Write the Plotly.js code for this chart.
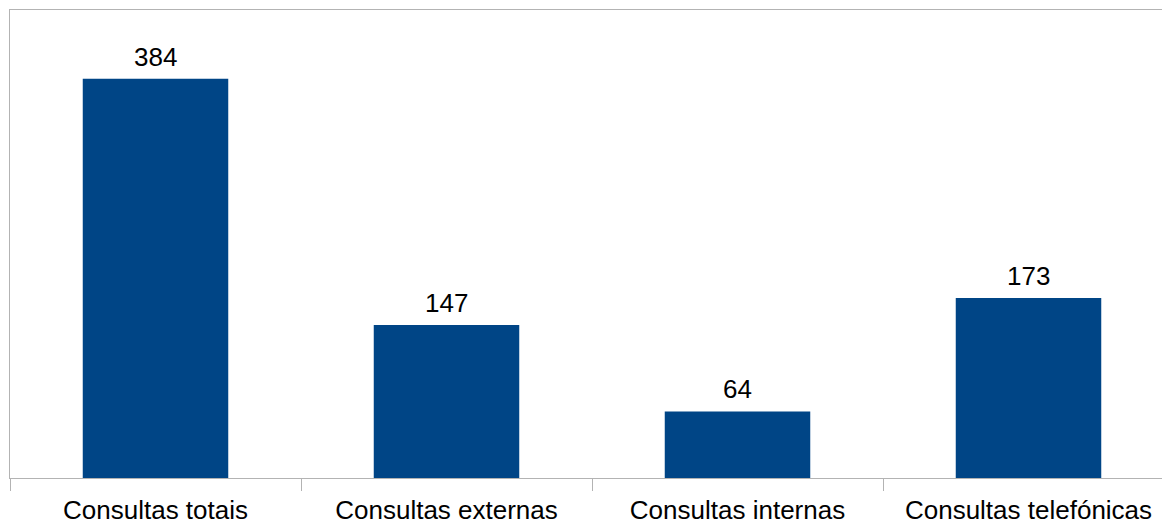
<!DOCTYPE html>
<html>
<head>
<meta charset="utf-8">
<script src="https://cdn.plot.ly/plotly-3.0.1.min.js"></script>
<style>
html, body { margin: 0; padding: 0; overflow: hidden; background: #fff; }
#chart { width: 1174px; height: 523px; }
</style>
</head>
<body>
<div id="chart"></div>
<script>
const categories = ["Consultas totais", "Consultas externas", "Consultas internas", "Consultas telefónicas"];
const values = [384, 147, 64, 173];

const FONT = "Liberation Sans, Arial, sans-serif";

const trace = {
  type: "bar",
  x: categories,
  y: values,
  marker: { color: "#004586", line: { width: 0 } },
  hoverinfo: "none"
};

const annotations = categories.map((c, i) => ({
  x: c,
  y: values[i],
  xref: "x",
  yref: "y",
  text: String(values[i]),
  showarrow: false,
  yanchor: "bottom",
  yshift: 5,
  font: { family: FONT, size: 26, color: "#000" }
}));

const layout = {
  width: 1174,
  height: 523,
  margin: { l: 10, r: 0, t: 10, b: 45 },
  paper_bgcolor: "#fff",
  plot_bgcolor: "#fff",
  bargap: 0.5,
  showlegend: false,
  xaxis: {
    type: "category",
    showline: true,
    linecolor: "#b3b3b3",
    linewidth: 1,
    mirror: true,
    ticks: "outside",
    tickson: "boundaries",
    ticklen: 12,
    tickcolor: "#b3b3b3",
    tickwidth: 1,
    showgrid: false,
    zeroline: false,
    ticklabelstandoff: 9,
    tickfont: { family: FONT, size: 26, color: "#000" },
    fixedrange: true
  },
  yaxis: {
    range: [0, 450],
    showline: true,
    linecolor: "#b3b3b3",
    linewidth: 1,
    mirror: false,
    showgrid: false,
    zeroline: false,
    showticklabels: false,
    ticks: "",
    fixedrange: true
  },
  annotations: annotations
};

Plotly.newPlot("chart", [trace], layout, { displayModeBar: false, staticPlot: true });
</script>
</body>
</html>
